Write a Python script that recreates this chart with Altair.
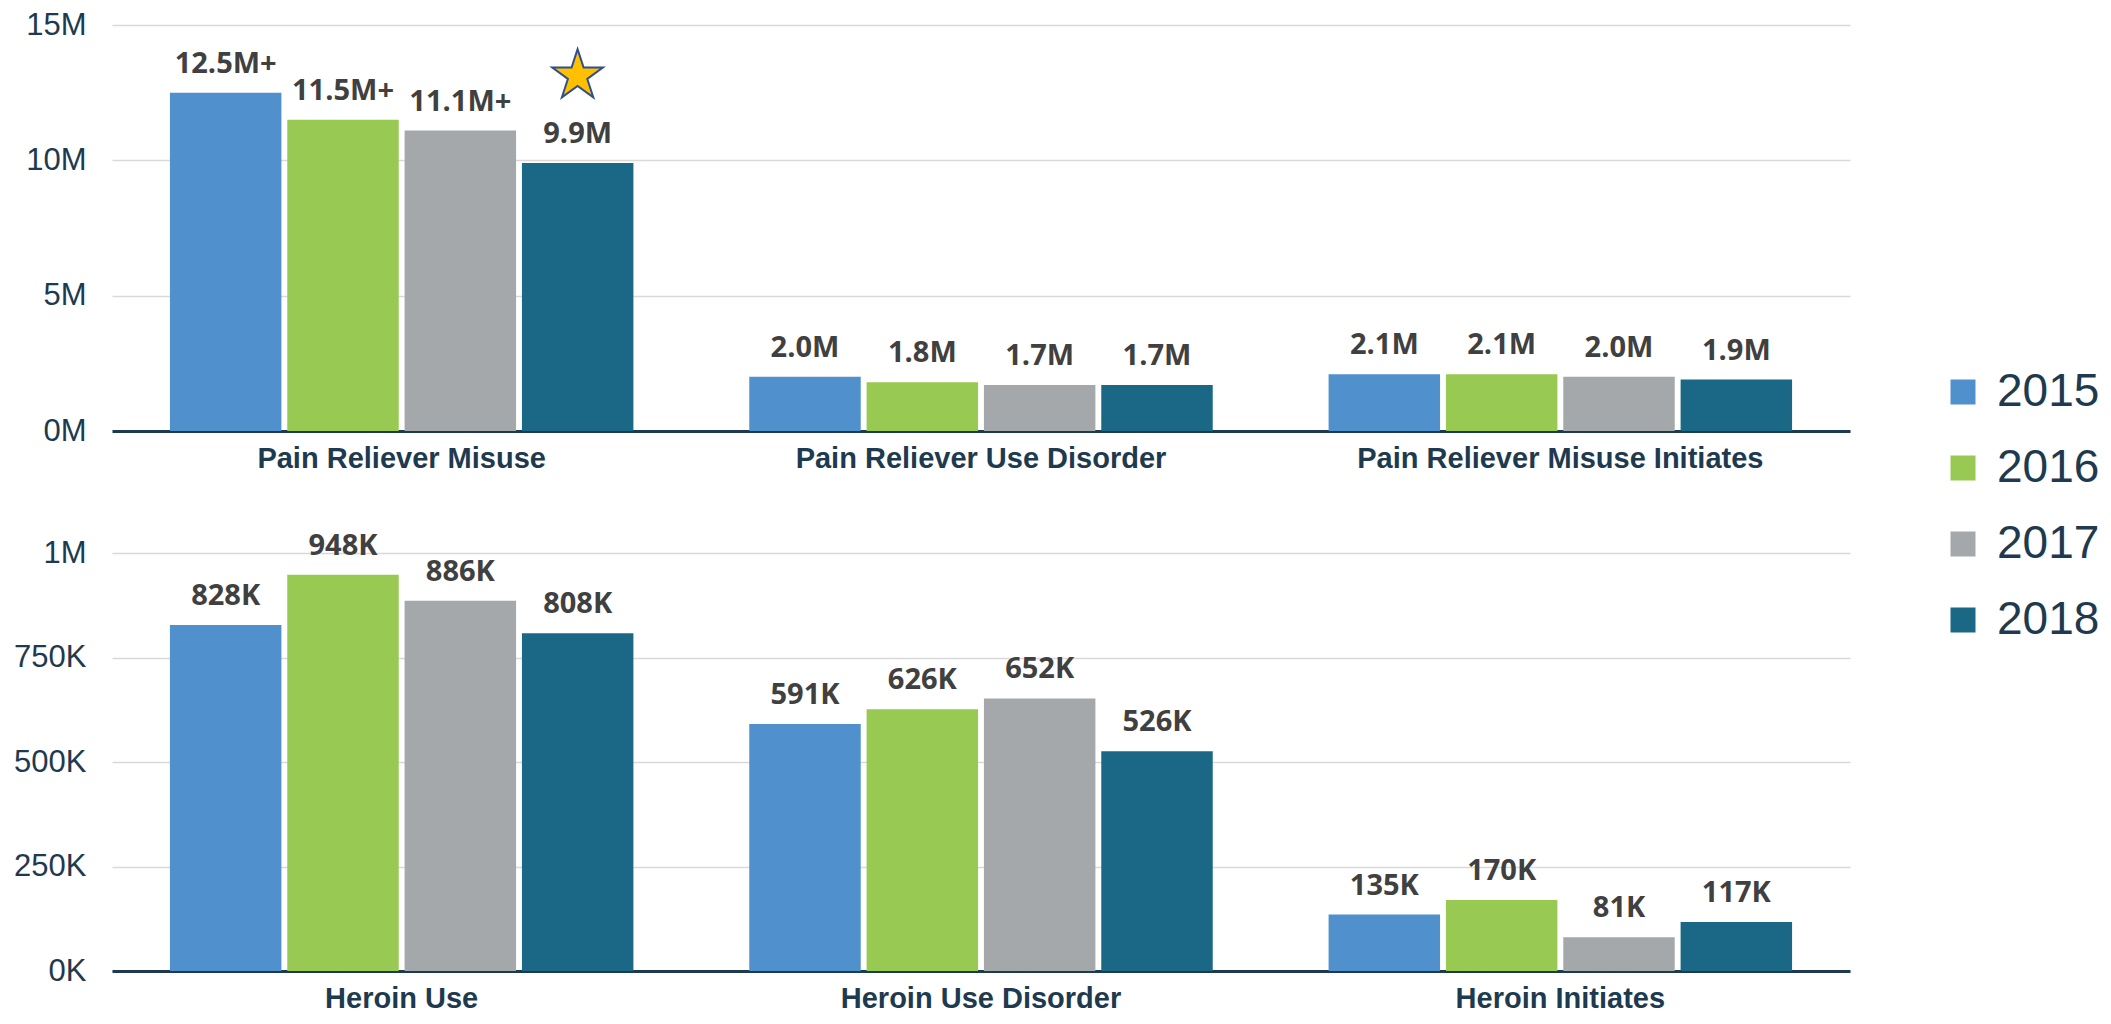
import altair as alt
import pandas as pd

years = ["2015", "2016", "2017", "2018"]
colors = ["#4f90cd", "#98c953", "#a5a8ab", "#1b6886"]

top_categories = ["Pain Reliever Misuse", "Pain Reliever Use Disorder", "Pain Reliever Misuse Initiates"]
top_values = [
    [12.5e6, 11.5e6, 11.1e6, 9.9e6],
    [2.0e6, 1.8e6, 1.7e6, 1.7e6],
    [2.1e6, 2.1e6, 2.0e6, 1.9e6],
]
top_labels = [
    ["12.5M+", "11.5M+", "11.1M+", "9.9M"],
    ["2.0M", "1.8M", "1.7M", "1.7M"],
    ["2.1M", "2.1M", "2.0M", "1.9M"],
]
top_ticks = [0, 5e6, 10e6, 15e6]

bottom_categories = ["Heroin Use", "Heroin Use Disorder", "Heroin Initiates"]
bottom_values = [
    [828e3, 948e3, 886e3, 808e3],
    [591e3, 626e3, 652e3, 526e3],
    [135e3, 170e3, 81e3, 117e3],
]
bottom_labels = [
    ["828K", "948K", "886K", "808K"],
    ["591K", "626K", "652K", "526K"],
    ["135K", "170K", "81K", "117K"],
]
bottom_ticks = [0, 250e3, 500e3, 750e3, 1e6]

# star annotation above the 2018 Pain Reliever Misuse bar
star_category = ["Pain Reliever Misuse"]
star_year = ["2018"]
star_value = [13.07e6]
star_glyph = ["★"]

NAVY = "#1e3a4f"
LABEL = "#404040"


def frame(cats, vals, labs):
    rows = []
    for c, vs, ls in zip(cats, vals, labs):
        for y, v, l in zip(years, vs, ls):
            rows.append({"category": c, "year": y, "value": v, "label": l})
    return pd.DataFrame(rows)


def panel(cats, vals, labs, ymax, ticks, label_expr, height, star=False):
    df = frame(cats, vals, labs)
    x = alt.X("category:N", sort=cats,
              scale=alt.Scale(paddingInner=0.2, paddingOuter=0.1),
              axis=alt.Axis(title=None, labelAngle=0, ticks=False, domain=True,
                            domainColor=NAVY, domainWidth=3,
                            labelFontSize=29, labelFontWeight="bold",
                            labelColor=NAVY, labelPadding=13, labelLimit=0,
                            labelFont="Liberation Sans"))
    xo = alt.XOffset("year:N", sort=years, scale=alt.Scale(paddingInner=0.05, paddingOuter=0))
    y = alt.Y("value:Q", scale=alt.Scale(domain=[0, ymax], nice=False),
              axis=alt.Axis(title=None, values=ticks, labelExpr=label_expr,
                            domain=False, ticks=False, grid=True,
                            gridColor="#d9d9d9", gridWidth=1.5,
                            labelFontSize=31, labelColor=NAVY,
                            labelFont="Liberation Sans", labelPadding=26,
                            minExtent=95))
    base = alt.Chart(df)
    bars = base.mark_bar().encode(
        x=x, xOffset=xo, y=y,
        color=alt.Color("year:N", sort=years,
                        scale=alt.Scale(domain=years, range=colors),
                        legend=alt.Legend(title=None, orient="none",
                                          legendX=1828, legendY=344,
                                          symbolType="square", symbolSize=625,
                                          symbolStrokeWidth=0,
                                          labelFontSize=46, labelColor=NAVY,
                                          labelFont="Liberation Sans",
                                          labelOffset=11, rowPadding=30)),
    )
    text = base.mark_text(dy=-29, baseline="middle", align="center",
                          font="Open Sans", fontWeight="bold", fontSize=29,
                          color=LABEL).encode(
        x=x, xOffset=xo, y="value:Q", text="label:N")
    layers = [bars, text]
    if star:
        sdf = pd.DataFrame({"category": star_category, "year": star_year,
                            "value": star_value, "glyph": star_glyph})
        st = alt.Chart(sdf).mark_text(baseline="middle", align="center",
                                      font="DejaVu Sans", fontSize=66,
                                      color="#FFC000", stroke="#2F4F8F",
                                      strokeWidth=2).encode(
            x=x, xOffset=xo, y="value:Q", text="glyph:N")
        layers.append(st)
    return alt.layer(*layers).properties(width=1738, height=height)


top = panel(top_categories, top_values, top_labels, 15e6, top_ticks,
            "datum.value/1000000 + 'M'", 406, star=True)
bottom = panel(bottom_categories, bottom_values, bottom_labels, 1e6, bottom_ticks,
               "datum.value >= 1000000 ? '1M' : datum.value/1000 + 'K'", 418)

chart = alt.vconcat(top, bottom, spacing=58).properties(
    padding={"left": 5, "top": 1, "right": 0, "bottom": 0},
).configure_view(strokeWidth=0)

chart.save("out.html", embed_options={"renderer": "svg", "actions": False})
